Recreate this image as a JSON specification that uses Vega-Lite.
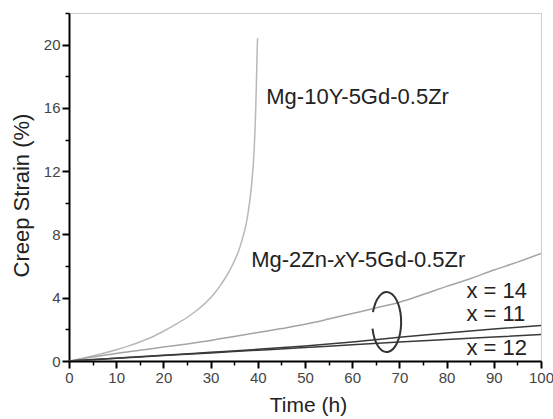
{
  "$schema": "https://vega.github.io/schema/vega-lite/v6.json",
  "width": 472,
  "height": 348,
  "autosize": {"type": "none"},
  "padding": {"left": 69, "top": 13, "right": 12, "bottom": 58},
  "background": "white",
  "config": {
    "view": {"stroke": "#999", "strokeDash": [1, 1], "strokeWidth": 1},
    "font": "Liberation Sans"
  },
  "resolve": {"axis": {"x": "independent", "y": "independent"}},
  "datasets": {
    "curves": [
      {"series": "Mg-10Y", "t": 0, "s": 0},
      {"series": "Mg-10Y", "t": 2.5, "s": 0.15},
      {"series": "Mg-10Y", "t": 5, "s": 0.32},
      {"series": "Mg-10Y", "t": 7.5, "s": 0.5},
      {"series": "Mg-10Y", "t": 10, "s": 0.71},
      {"series": "Mg-10Y", "t": 12.5, "s": 0.94},
      {"series": "Mg-10Y", "t": 15, "s": 1.2},
      {"series": "Mg-10Y", "t": 17.5, "s": 1.5},
      {"series": "Mg-10Y", "t": 20, "s": 1.88},
      {"series": "Mg-10Y", "t": 22.5, "s": 2.3},
      {"series": "Mg-10Y", "t": 25, "s": 2.75},
      {"series": "Mg-10Y", "t": 27.5, "s": 3.3},
      {"series": "Mg-10Y", "t": 30, "s": 4.0},
      {"series": "Mg-10Y", "t": 31, "s": 4.35},
      {"series": "Mg-10Y", "t": 32, "s": 4.75},
      {"series": "Mg-10Y", "t": 33, "s": 5.2},
      {"series": "Mg-10Y", "t": 34, "s": 5.7},
      {"series": "Mg-10Y", "t": 35, "s": 6.3},
      {"series": "Mg-10Y", "t": 36, "s": 7.0},
      {"series": "Mg-10Y", "t": 36.8, "s": 7.8},
      {"series": "Mg-10Y", "t": 37.5, "s": 8.6},
      {"series": "Mg-10Y", "t": 38.2, "s": 9.9},
      {"series": "Mg-10Y", "t": 38.8, "s": 11.5},
      {"series": "Mg-10Y", "t": 39.2, "s": 13.2},
      {"series": "Mg-10Y", "t": 39.5, "s": 15.3},
      {"series": "Mg-10Y", "t": 39.7, "s": 17.5},
      {"series": "Mg-10Y", "t": 39.85, "s": 19.5},
      {"series": "Mg-10Y", "t": 39.95, "s": 20.4},
      {"series": "x=14", "t": 0, "s": 0},
      {"series": "x=14", "t": 5, "s": 0.25},
      {"series": "x=14", "t": 10, "s": 0.48},
      {"series": "x=14", "t": 15, "s": 0.68},
      {"series": "x=14", "t": 20, "s": 0.88},
      {"series": "x=14", "t": 25, "s": 1.08},
      {"series": "x=14", "t": 30, "s": 1.3},
      {"series": "x=14", "t": 35, "s": 1.55},
      {"series": "x=14", "t": 40, "s": 1.8},
      {"series": "x=14", "t": 45, "s": 2.05},
      {"series": "x=14", "t": 50, "s": 2.32},
      {"series": "x=14", "t": 55, "s": 2.65},
      {"series": "x=14", "t": 60, "s": 3.0},
      {"series": "x=14", "t": 65, "s": 3.35},
      {"series": "x=14", "t": 70, "s": 3.72},
      {"series": "x=14", "t": 75, "s": 4.2},
      {"series": "x=14", "t": 80, "s": 4.72},
      {"series": "x=14", "t": 85, "s": 5.2},
      {"series": "x=14", "t": 90, "s": 5.75},
      {"series": "x=14", "t": 95, "s": 6.25},
      {"series": "x=14", "t": 100, "s": 6.8},
      {"series": "x=11", "t": 0, "s": 0},
      {"series": "x=11", "t": 10, "s": 0.18},
      {"series": "x=11", "t": 20, "s": 0.36},
      {"series": "x=11", "t": 30, "s": 0.55},
      {"series": "x=11", "t": 40, "s": 0.74},
      {"series": "x=11", "t": 50, "s": 0.95},
      {"series": "x=11", "t": 60, "s": 1.2},
      {"series": "x=11", "t": 70, "s": 1.5},
      {"series": "x=11", "t": 80, "s": 1.77},
      {"series": "x=11", "t": 90, "s": 2.02},
      {"series": "x=11", "t": 100, "s": 2.25},
      {"series": "x=12", "t": 0, "s": 0},
      {"series": "x=12", "t": 10, "s": 0.17},
      {"series": "x=12", "t": 20, "s": 0.34},
      {"series": "x=12", "t": 30, "s": 0.51},
      {"series": "x=12", "t": 40, "s": 0.68},
      {"series": "x=12", "t": 50, "s": 0.85},
      {"series": "x=12", "t": 60, "s": 1.03},
      {"series": "x=12", "t": 70, "s": 1.2},
      {"series": "x=12", "t": 80, "s": 1.36},
      {"series": "x=12", "t": 90, "s": 1.52},
      {"series": "x=12", "t": 100, "s": 1.67}
    ],
    "labels": [
      {"t": 41.8, "s": 16.25, "text": "Mg-10Y-5Gd-0.5Zr", "align": "left", "style": "normal"},
      {"t": 56.2, "s": 5.93, "text": "Mg-2Zn-", "align": "right", "style": "normal"},
      {"t": 56.2, "s": 5.93, "text": "x", "align": "left", "style": "italic"},
      {"t": 58.5, "s": 5.93, "text": "Y-5Gd-0.5Zr", "align": "left", "style": "normal"},
      {"t": 84.2, "s": 3.98, "text": "x = 14", "align": "left", "style": "normal"},
      {"t": 84.2, "s": 2.51, "text": "x = 11", "align": "left", "style": "normal"},
      {"t": 84.2, "s": 0.36, "text": "x = 12", "align": "left", "style": "normal"}
    ],
    "ellipse": [{"t": 67.3, "s": 2.46}]
  },
  "layer": [
    {
      "data": {"name": "curves"},
      "mark": {"type": "line", "interpolate": "monotone", "clip": true},
      "encoding": {
        "x": {
          "field": "t", "type": "quantitative",
          "scale": {"domain": [0, 100], "nice": false, "zero": false},
          "axis": {
            "title": "Time (h)",
            "orient": "bottom",
            "values": [0,10,20,30,40,50,60,70,80,90,100],
            "grid": false,
            "domainColor": "black", "domainWidth": 2,
            "tickColor": "black", "tickWidth": 2, "tickSize": 7,
            "labelFont": "Liberation Sans", "labelFontSize": 15, "labelColor": "#444",
            "labelPadding": 2, "labelFlush": false,
            "titleFont": "Liberation Sans", "titleFontSize": 21, "titleFontWeight": "normal",
            "titleColor": "#222", "titleX": 239, "titleY": 44, "titleBaseline": "middle", "titleAnchor": "middle", "titleAlign": "center"
          }
        },
        "y": {
          "field": "s", "type": "quantitative",
          "scale": {"domain": [0, 22], "nice": false},
          "axis": {
            "title": "Creep Strain (%)",
            "orient": "left",
            "values": [0,4,8,12,16,20],
            "grid": false,
            "domainColor": "black", "domainWidth": 2,
            "tickColor": "black", "tickWidth": 2, "tickSize": 7,
            "labelFont": "Liberation Sans", "labelFontSize": 15, "labelColor": "#444",
            "labelPadding": 2, "labelFlush": false,
            "titleFont": "Liberation Sans", "titleFontSize": 22, "titleFontWeight": "normal",
            "titleColor": "#222", "titleX": -48, "titleY": 182, "titleBaseline": "middle", "titleAngle": -90, "titleAlign": "center", "titleAnchor": "middle"
          }
        },
        "detail": {"field": "series"},
        "color": {
          "field": "series", "type": "nominal", "legend": null,
          "scale": {"domain": ["Mg-10Y", "x=14", "x=11", "x=12"], "range": ["#b8b8b8", "#a4a4a4", "#3a3a3a", "#3a3a3a"]}
        },
        "strokeWidth": {
          "field": "series", "type": "nominal", "legend": null,
          "scale": {"domain": ["Mg-10Y", "x=14", "x=11", "x=12"], "range": [1.5, 1.5, 2, 2]}
        }
      }
    },
    {
      "data": {"name": "ellipse"},
      "mark": {"type": "point", "shape": "M -0.471 0.22 A 0.483 1 0 1 0 -0.456 -0.33", "filled": false, "size": 3600, "stroke": "#333", "strokeWidth": 2, "opacity": 1},
      "encoding": {
        "x": {
          "field": "t", "type": "quantitative",
          "axis": {
            "orient": "bottom", "title": null, "labels": false, "domain": false, "grid": false,
            "values": [5,15,25,35,45,55,65,75,85,95],
            "tickColor": "black", "tickWidth": 1.5, "tickSize": 4
          }
        },
        "y": {
          "field": "s", "type": "quantitative",
          "axis": {
            "orient": "left", "title": null, "labels": false, "domain": false, "grid": false,
            "values": [2,6,10,14,18,22],
            "tickColor": "black", "tickWidth": 1.5, "tickSize": 4
          }
        }
      }
    },
    {
      "data": {"name": "labels"},
      "transform": [{"filter": "datum.style === 'normal' && datum.align === 'left'"}],
      "mark": {"type": "text", "align": "left", "baseline": "alphabetic", "font": "Liberation Sans", "fontSize": 22, "color": "#222"},
      "encoding": {
        "x": {"field": "t", "type": "quantitative", "axis": null},
        "y": {"field": "s", "type": "quantitative", "axis": null},
        "text": {"field": "text"}
      }
    },
    {
      "data": {"name": "labels"},
      "transform": [{"filter": "datum.align === 'right'"}],
      "mark": {"type": "text", "align": "right", "baseline": "alphabetic", "font": "Liberation Sans", "fontSize": 22, "color": "#222"},
      "encoding": {
        "x": {"field": "t", "type": "quantitative", "axis": null},
        "y": {"field": "s", "type": "quantitative", "axis": null},
        "text": {"field": "text"}
      }
    },
    {
      "data": {"name": "labels"},
      "transform": [{"filter": "datum.style === 'italic'"}],
      "mark": {"type": "text", "align": "left", "baseline": "alphabetic", "font": "Liberation Sans", "fontSize": 22, "fontStyle": "italic", "color": "#222"},
      "encoding": {
        "x": {"field": "t", "type": "quantitative", "axis": null},
        "y": {"field": "s", "type": "quantitative", "axis": null},
        "text": {"field": "text"}
      }
    }
  ]
}
